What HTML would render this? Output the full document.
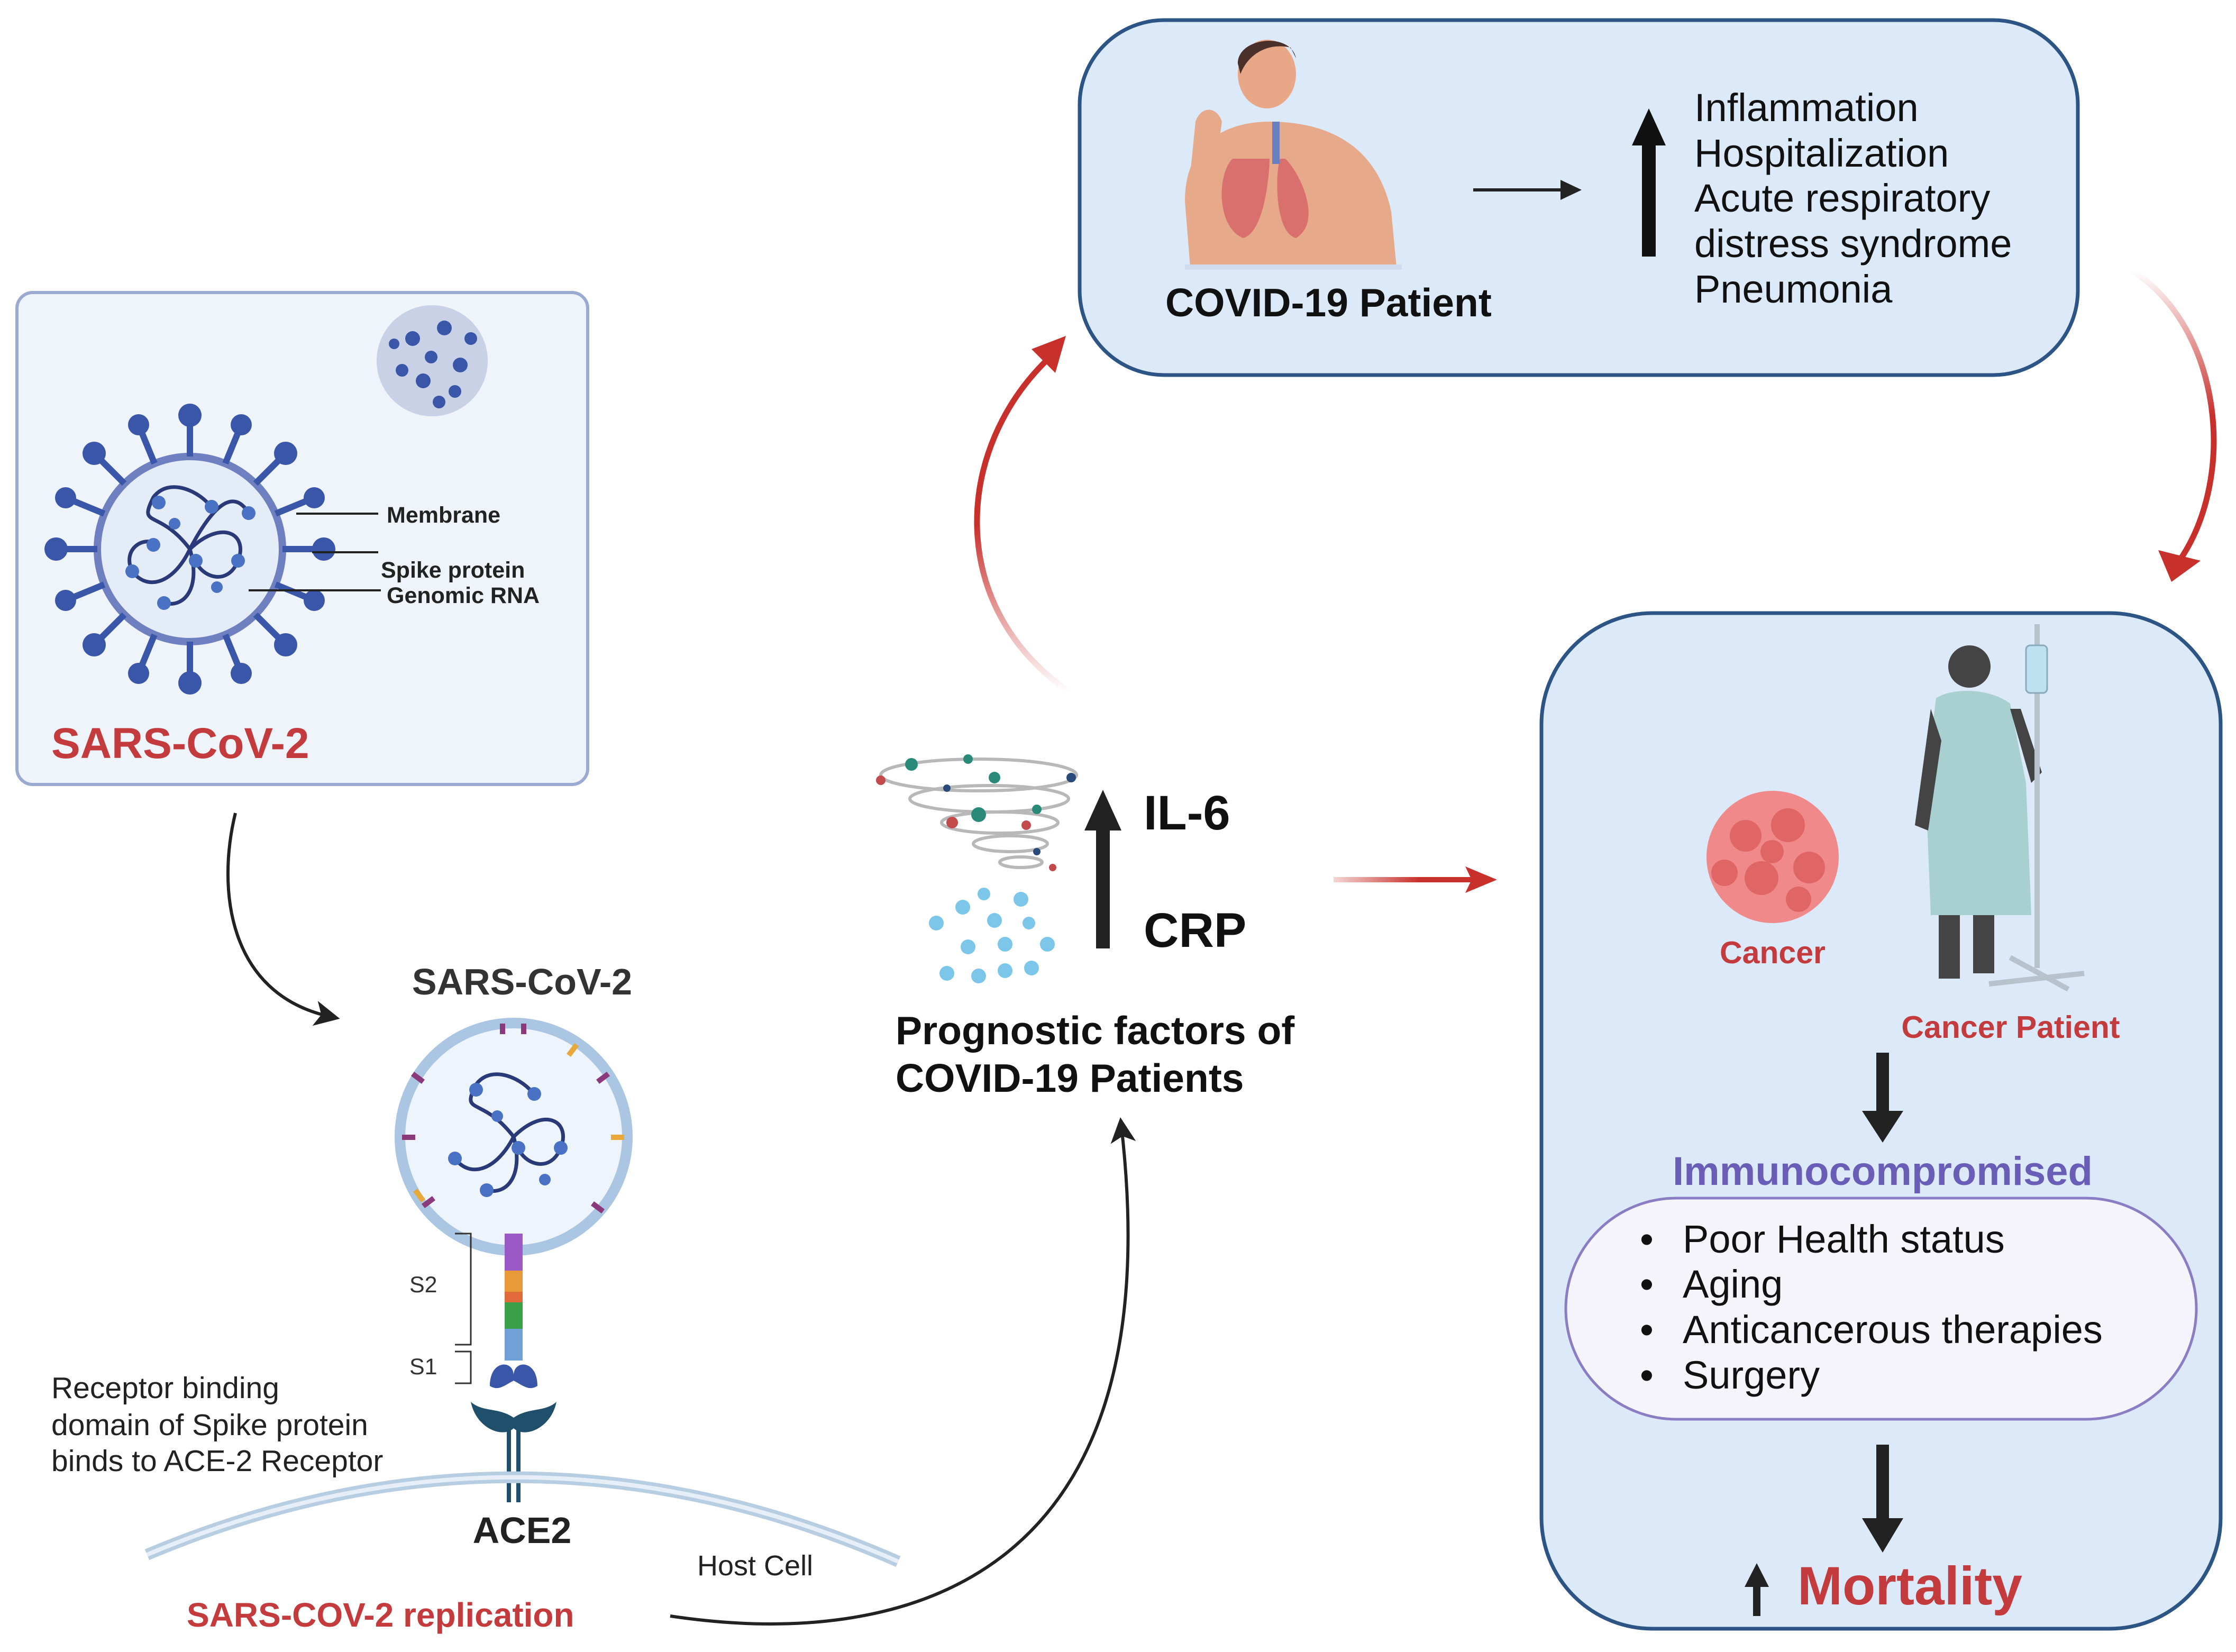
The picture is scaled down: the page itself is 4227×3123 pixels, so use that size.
<!DOCTYPE html>
<html><head><meta charset="utf-8"><style>
html,body{margin:0;padding:0;background:#fff}
svg{display:block}
text{font-family:"Liberation Sans","DejaVu Sans",sans-serif}
</style></head><body>
<svg width="4227" height="3123" viewBox="0 0 4227 3123" xmlns="http://www.w3.org/2000/svg">
<defs>
<marker id="ab" markerWidth="8" markerHeight="8" refX="5" refY="4" orient="auto" markerUnits="strokeWidth"><path d="M0,0 L8,4 L0,8 L2,4z" fill="#222"/></marker>
<linearGradient id="g1" x1="0" y1="1" x2="0" y2="0"><stop offset="0" stop-color="#c8302c" stop-opacity="0"/><stop offset="0.5" stop-color="#c8302c"/></linearGradient>
<linearGradient id="g2" x1="0" y1="0" x2="0" y2="1"><stop offset="0" stop-color="#c8302c" stop-opacity="0"/><stop offset="0.5" stop-color="#c8302c"/></linearGradient>
<linearGradient id="g3" x1="0" y1="0" x2="1" y2="0"><stop offset="0" stop-color="#c8302c" stop-opacity="0.2"/><stop offset="0.6" stop-color="#c8302c"/></linearGradient>
</defs>

<!-- Left box -->
<rect x="32" y="553" width="1079" height="930" rx="30" fill="#eff3fa" stroke="#9aaad0" stroke-width="6"/>
<circle cx="817" cy="682" r="105" fill="#c9d1e6"/>
<g fill="#3a56a8"><circle cx="780" cy="640" r="14"/><circle cx="840" cy="620" r="14"/><circle cx="870" cy="690" r="14"/><circle cx="800" cy="720" r="14"/><circle cx="760" cy="700" r="12"/><circle cx="830" cy="760" r="12"/><circle cx="890" cy="640" r="12"/><circle cx="815" cy="675" r="12"/><circle cx="745" cy="650" r="10"/><circle cx="860" cy="740" r="12"/></g>
<circle cx="359" cy="1038" r="175" fill="#e4ecf8" stroke="#6f80c0" stroke-width="14"/>
<g stroke="#3a56a8" stroke-width="12" fill="#3a56a8">
<line x1="359" y1="863" x2="359" y2="790"/><line x1="359" y1="1213" x2="359" y2="1286"/>
<line x1="184" y1="1038" x2="111" y2="1038"/><line x1="534" y1="1038" x2="607" y2="1038"/>
<line x1="235" y1="914" x2="183" y2="862"/><line x1="483" y1="914" x2="535" y2="862"/>
<line x1="235" y1="1162" x2="183" y2="1214"/><line x1="483" y1="1162" x2="535" y2="1214"/>
<line x1="292" y1="876" x2="264" y2="808"/><line x1="426" y1="876" x2="454" y2="808"/>
<line x1="197" y1="971" x2="129" y2="943"/><line x1="521" y1="971" x2="589" y2="943"/>
<line x1="197" y1="1105" x2="129" y2="1133"/><line x1="521" y1="1105" x2="589" y2="1133"/>
<line x1="292" y1="1200" x2="264" y2="1268"/><line x1="426" y1="1200" x2="454" y2="1268"/>
</g>
<g fill="#3a56a8">
<circle cx="359" cy="785" r="22"/><circle cx="359" cy="1291" r="22"/><circle cx="106" cy="1038" r="22"/><circle cx="612" cy="1038" r="22"/>
<circle cx="178" cy="857" r="22"/><circle cx="540" cy="857" r="22"/><circle cx="178" cy="1219" r="22"/><circle cx="540" cy="1219" r="22"/>
<circle cx="262" cy="803" r="20"/><circle cx="456" cy="803" r="20"/><circle cx="124" cy="941" r="20"/><circle cx="594" cy="941" r="20"/>
<circle cx="124" cy="1135" r="20"/><circle cx="594" cy="1135" r="20"/><circle cx="262" cy="1273" r="20"/><circle cx="456" cy="1273" r="20"/>
</g>
<g fill="none" stroke="#2a3a78" stroke-width="7">
<path d="M359,1038 C300,960 260,1000 290,940 C320,900 380,930 400,960"/>
<path d="M359,1038 C420,980 470,1010 450,1060 C430,1110 380,1090 370,1060"/>
<path d="M359,1038 C330,1100 280,1120 250,1080 C230,1040 270,1010 300,1030"/>
<path d="M359,1038 C380,1110 350,1150 310,1140"/>
<path d="M359,1038 C400,960 440,920 470,970"/>
</g>
<g fill="#4a72c4"><circle cx="300" cy="950" r="13"/><circle cx="400" cy="958" r="13"/><circle cx="450" cy="1060" r="13"/><circle cx="250" cy="1080" r="13"/><circle cx="310" cy="1140" r="13"/><circle cx="470" cy="970" r="13"/><circle cx="370" cy="1060" r="13"/><circle cx="290" cy="1030" r="13"/><circle cx="330" cy="990" r="11"/><circle cx="410" cy="1110" r="11"/></g>
<g stroke="#222" stroke-width="4"><line x1="560" y1="971" x2="715" y2="971"/><line x1="590" y1="1044" x2="715" y2="1044"/><line x1="470" y1="1116" x2="720" y2="1116"/></g>
<g font-weight="bold" font-size="43" fill="#222"><text x="731" y="988">Membrane</text><text x="720" y="1092">Spike protein</text><text x="731" y="1140">Genomic RNA</text></g>
<text x="97" y="1433" font-size="82" font-weight="bold" fill="#c33b3d">SARS-CoV-2</text>

<path d="M445,1537 C410,1680 430,1880 625,1922" fill="none" stroke="#222" stroke-width="6" marker-end="url(#ab)"/>

<!-- bottom virus -->
<text x="987" y="1880" font-size="70" font-weight="bold" fill="#333" text-anchor="middle">SARS-CoV-2</text>
<circle cx="971" cy="2149" r="215" fill="#eef4fb" stroke="#aac6e2" stroke-width="20"/>
<g fill="none" stroke="#2a3a78" stroke-width="7">
<path d="M971,2149 C910,2070 870,2110 900,2050 C930,2010 990,2040 1010,2070"/>
<path d="M971,2149 C1030,2090 1080,2120 1060,2170 C1040,2220 990,2200 980,2170"/>
<path d="M971,2149 C940,2210 890,2230 860,2190"/>
<path d="M971,2149 C990,2220 960,2260 920,2250"/>
</g>
<g fill="#4a72c4"><circle cx="900" cy="2060" r="13"/><circle cx="1010" cy="2068" r="13"/><circle cx="1060" cy="2170" r="13"/><circle cx="860" cy="2190" r="13"/><circle cx="920" cy="2250" r="13"/><circle cx="980" cy="2170" r="13"/><circle cx="940" cy="2110" r="11"/><circle cx="1030" cy="2230" r="11"/></g>
<g stroke="#8a3a7a" stroke-width="10" fill="none"><path d="M950,1935 v20 M990,1935 v20 M780,2030 l20,15 M1150,2030 l-20,15 M760,2150 h25 M800,2280 l20,-15 M1140,2290 l-20,-15"/></g>
<g stroke="#e8a83a" stroke-width="10"><line x1="1090" y1="1975" x2="1075" y2="1995"/><line x1="1180" y1="2150" x2="1155" y2="2150"/><line x1="800" y1="2270" x2="785" y2="2250"/></g>
<rect x="954" y="2332" width="34" height="70" fill="#9b59c6"/>
<rect x="954" y="2402" width="34" height="40" fill="#e89a3a"/>
<rect x="954" y="2442" width="34" height="20" fill="#e06a3a"/>
<rect x="954" y="2462" width="34" height="50" fill="#3aa04a"/>
<rect x="954" y="2512" width="34" height="60" fill="#6fa0d8"/>
<path d="M926,2620 C926,2570 971,2570 971,2600 C971,2570 1016,2570 1016,2620 C1000,2630 990,2620 971,2610 C952,2620 942,2630 926,2620z" fill="#3a56a8"/>
<path d="M890,2650 C900,2700 950,2720 971,2700 C992,2720 1042,2700 1052,2650 C1030,2670 1000,2660 971,2680 C942,2660 912,2670 890,2650z" fill="#1f4f6a"/>
<rect x="958" y="2700" width="8" height="140" fill="#1f4f6a"/><rect x="976" y="2700" width="8" height="140" fill="#1f4f6a"/>
<g stroke="#333" stroke-width="3" fill="none"><path d="M860,2332 h30 v210 h-30"/><path d="M860,2555 h30 v60 h-30"/></g>
<text x="774" y="2443" font-size="43" fill="#333">S2</text>
<text x="774" y="2598" font-size="43" fill="#333">S1</text>
<path d="M278,2939 Q988,2640 1698,2952" fill="none" stroke="#b7cde2" stroke-width="22"/>
<path d="M278,2939 Q988,2640 1698,2952" fill="none" stroke="#e6eff8" stroke-width="8"/>
<text x="987" y="2917" font-size="70" font-weight="bold" fill="#222" text-anchor="middle">ACE2</text>
<text x="1318" y="2978" font-size="54" fill="#222">Host Cell</text>
<g font-size="57" fill="#222"><text x="97" y="2643">Receptor binding</text><text x="97" y="2713">domain of Spike protein</text><text x="97" y="2781">binds to ACE-2 Receptor</text></g>
<text x="353" y="3075" font-size="64" font-weight="bold" fill="#c33b3d">SARS-COV-2 replication</text>

<path d="M1267,3055 C1700,3120 2220,3000 2120,2130" fill="none" stroke="#222" stroke-width="6" marker-end="url(#ab)"/>

<!-- middle tornado -->
<g fill="none" stroke="#b8b8b8" stroke-width="6">
<ellipse cx="1850" cy="1465" rx="185" ry="30"/><ellipse cx="1870" cy="1510" rx="150" ry="25"/><ellipse cx="1890" cy="1555" rx="110" ry="20"/><ellipse cx="1910" cy="1595" rx="70" ry="15"/><ellipse cx="1930" cy="1630" rx="40" ry="10"/>
</g>
<g fill="#2a8a7a"><circle cx="1723" cy="1445" r="12"/><circle cx="1880" cy="1470" r="11"/><circle cx="1850" cy="1540" r="14"/><circle cx="1960" cy="1530" r="9"/><circle cx="1830" cy="1435" r="9"/></g>
<g fill="#c34a4a"><circle cx="1665" cy="1475" r="9"/><circle cx="1800" cy="1555" r="11"/><circle cx="1940" cy="1560" r="9"/><circle cx="1990" cy="1640" r="7"/></g>
<g fill="#2a4a7a"><circle cx="1790" cy="1490" r="7"/><circle cx="2025" cy="1470" r="9"/><circle cx="1960" cy="1610" r="7"/></g>
<g fill="#7cc6ea"><circle cx="1770" cy="1745" r="14"/><circle cx="1820" cy="1715" r="14"/><circle cx="1880" cy="1740" r="14"/><circle cx="1930" cy="1700" r="14"/><circle cx="1980" cy="1785" r="14"/><circle cx="1860" cy="1690" r="12"/><circle cx="1830" cy="1790" r="14"/><circle cx="1900" cy="1785" r="14"/><circle cx="1790" cy="1840" r="14"/><circle cx="1850" cy="1845" r="14"/><circle cx="1900" cy="1835" r="14"/><circle cx="1950" cy="1830" r="14"/><circle cx="1945" cy="1745" r="12"/></g>
<rect x="2072" y="1560" width="26" height="233" fill="#222"/>
<path d="M2050,1570 L2085,1493 L2120,1570z" fill="#222"/>
<text x="2162" y="1568" font-size="92" font-weight="bold" fill="#111">IL-6</text>
<text x="2162" y="1790" font-size="92" font-weight="bold" fill="#111">CRP</text>
<g font-size="75" font-weight="bold" fill="#111"><text x="1693" y="1974">Prognostic factors of</text><text x="1693" y="2064">COVID-19 Patients</text></g>

<!-- red arrows -->
<rect x="2521" y="1658" width="270" height="10" fill="url(#g3)"/>
<path d="M2770,1638 L2830,1663 L2770,1688 L2782,1663z" fill="#c8302c"/>
<path d="M2022,1308 C1790,1150 1800,850 1985,675" fill="none" stroke="url(#g1)" stroke-width="11"/>
<path d="M1950,660 L2015,635 L1995,705z" fill="#c8302c"/>
<path d="M4031,512 C4200,620 4230,900 4120,1060" fill="none" stroke="url(#g2)" stroke-width="11"/>
<path d="M4080,1040 L4105,1100 L4160,1060z" fill="#c8302c"/>

<!-- top box -->
<rect x="2041" y="38" width="1887" height="671" rx="160" fill="#dbe9f8" stroke="#2c5585" stroke-width="7"/>
<ellipse cx="2395" cy="140" rx="55" ry="65" fill="#e8a888"/>
<path d="M2340,120 C2340,70 2440,60 2450,110 L2440,90 C2400,80 2360,100 2345,140z" fill="#4a3028"/>
<path d="M2240,380 C2240,260 2330,230 2400,230 C2490,230 2600,260 2630,400 L2640,505 L2250,505z" fill="#e6a98a"/>
<path d="M2250,330 L2260,230 C2270,200 2300,200 2310,230 L2300,300z" fill="#e6a98a"/>
<path d="M2330,300 C2300,330 2300,430 2350,450 C2390,440 2400,330 2400,300z" fill="#d9706e"/>
<path d="M2430,300 C2460,330 2500,420 2450,450 C2410,440 2410,330 2420,300z" fill="#d9706e"/>
<rect x="2405" y="230" width="14" height="80" fill="#6a7fc0"/>
<path d="M2240,505 L2650,505" stroke="#cfdcf0" stroke-width="10"/>
<text x="2203" y="598" font-size="75" font-weight="bold" fill="#111">COVID-19 Patient</text>
<line x1="2785" y1="359" x2="2960" y2="359" stroke="#222" stroke-width="6"/>
<path d="M2950,340 L2990,359 L2950,378z" fill="#222"/>
<rect x="3104" y="270" width="26" height="215" fill="#111"/>
<path d="M3085,275 L3117,205 L3149,275z" fill="#111"/>
<g font-size="74" fill="#111"><text x="3203" y="229">Inflammation</text><text x="3203" y="315">Hospitalization</text><text x="3203" y="400">Acute respiratory</text><text x="3203" y="486">distress syndrome</text><text x="3203" y="572">Pneumonia</text></g>

<!-- right box -->
<rect x="2914" y="1159" width="1284" height="1920" rx="210" fill="#dbe9f8" stroke="#2c5585" stroke-width="7"/>
<g fill="#f08a8a"><circle cx="3351" cy="1620" r="125"/></g>
<g fill="#e06565"><circle cx="3300" cy="1580" r="30"/><circle cx="3380" cy="1560" r="32"/><circle cx="3420" cy="1640" r="30"/><circle cx="3330" cy="1660" r="32"/><circle cx="3260" cy="1650" r="25"/><circle cx="3350" cy="1610" r="22"/><circle cx="3400" cy="1700" r="24"/></g>
<text x="3351" y="1821" font-size="59" font-weight="bold" fill="#c33b3d" text-anchor="middle">Cancer</text>
<circle cx="3723" cy="1260" r="40" fill="#444"/>
<path d="M3660,1320 C3690,1300 3760,1300 3800,1330 L3830,1480 L3840,1730 L3650,1730 L3640,1480z" fill="#a8d0d0"/>
<rect x="3665" y="1730" width="40" height="120" fill="#444"/><rect x="3730" y="1730" width="40" height="110" fill="#444"/>
<path d="M3650,1340 L3620,1560 L3645,1570 L3670,1400z" fill="#444"/>
<path d="M3800,1340 L3840,1480 L3860,1460 L3820,1340z" fill="#444"/>
<rect x="3846" y="1180" width="10" height="650" fill="#b8c2cc"/>
<rect x="3830" y="1220" width="40" height="90" rx="8" fill="#bfe0f0" stroke="#8ab" stroke-width="3"/>
<path d="M3760,1860 L3940,1840 M3800,1810 L3910,1870" stroke="#b8c2cc" stroke-width="10"/>
<text x="3801" y="1962" font-size="59" font-weight="bold" fill="#c33b3d" text-anchor="middle">Cancer Patient</text>
<rect x="3547" y="1990" width="24" height="120" fill="#222"/>
<path d="M3520,2100 L3559,2160 L3598,2100z" fill="#222"/>
<text x="3559" y="2240" font-size="76" font-weight="bold" fill="#6a5db8" text-anchor="middle">Immunocompromised</text>
<rect x="2960" y="2265" width="1192" height="418" rx="209" fill="#f6f4fb" stroke="#8a7dc4" stroke-width="5"/>
<g font-size="74" fill="#111"><text x="3100" y="2368">•</text><text x="3181" y="2368">Poor Health status</text>
<text x="3100" y="2453">•</text><text x="3181" y="2453">Aging</text>
<text x="3100" y="2539">•</text><text x="3181" y="2539">Anticancerous therapies</text>
<text x="3100" y="2625">•</text><text x="3181" y="2625">Surgery</text></g>
<rect x="3547" y="2731" width="24" height="150" fill="#222"/>
<path d="M3520,2870 L3559,2935 L3598,2870z" fill="#222"/>
<rect x="3314" y="2990" width="14" height="65" fill="#222"/>
<path d="M3298,3000 L3321,2955 L3344,3000z" fill="#222"/>
<text x="3398" y="3033" font-size="102" font-weight="bold" fill="#c33b3d">Mortality</text>
</svg>
</body></html>
